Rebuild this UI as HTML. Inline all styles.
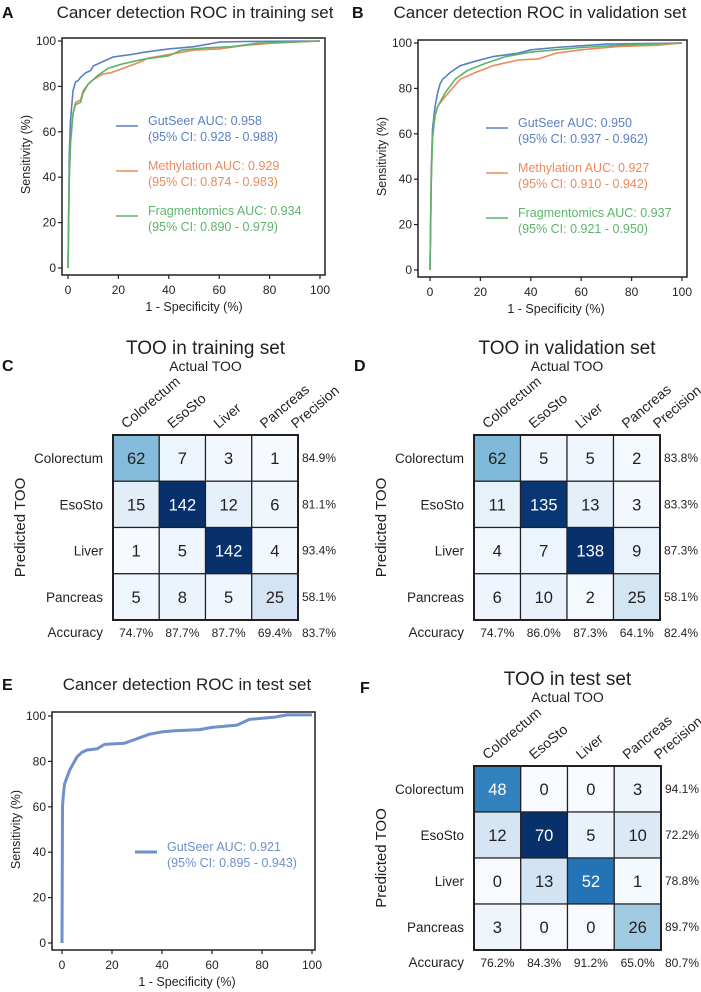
<!DOCTYPE html>
<html><head><meta charset="utf-8"><style>
body{margin:0;background:#fff}
svg{display:block;font-family:"Liberation Sans",Arial,sans-serif}
</style></head><body>
<svg id="fig" width="701" height="992" viewBox="0 0 701 992" xmlns="http://www.w3.org/2000/svg"></svg>
<script>
// ---- ROC data (fpr %, tpr %) ----
const trainGutFpr=[0,0.5,1,2,3,4,5,7,9,10,14,18,25,30,40,50,60,70,100];
const trainGutTpr=[0,50,65,78,82,82.5,84,86,87,89,91,93,94,95,96.5,97.5,99.5,99.8,100];
const trainMethFpr=[0,0.5,1,2,3,5,6,8,10,14,17,22,28,32,40,45,50,60,70,80,100];
const trainMethTpr=[0,40,55,68,73,74,78,81,83,85.5,86,88,90.5,92.5,94,95,96,96.5,98,99,100];
const trainFragFpr=[0,0.5,1,2,3,5,6,8,12,16,22,30,40,45,55,65,75,100];
const trainFragTpr=[0,40,55,68,72,73,77,81,85,88,90,92,93.5,96,97,97.5,99,100];
const valGutFpr=[0,0.5,1,2,3,4,5,8,12,18,25,35,40,50,70,100];
const valGutTpr=[0,45,62,72,78,82,84,87,90,92,94,95.5,97,98,99.5,100];
const valMethFpr=[0,0.5,1,2,3,5,8,12,18,25,35,43,50,60,75,90,100];
const valMethTpr=[0,40,58,68,72,75,79,84,87,90,92.5,93,95.5,97,98.5,99,100];
const valFragFpr=[0,0.5,1,2,3,6,10,15,22,30,40,50,60,75,100];
const valFragTpr=[0,40,58,68,72,78,84,88,91,94,96,97,98,99,100];
const testGutFpr=[0,0.2,0.5,1,2,3,4,5,6,8,10,14,17,25,30,35,40,45,55,60,70,75,85,90,100];
const testGutTpr=[0,60,65,70,73,76,78,80,82,84,85,85.5,87.5,88,90,92,93,93.5,94,95,96,98.5,99.5,100.5,100.5];
const rocTicks=[0,20,40,60,80,100];
// ---- confusion matrices ----
const tooCats=["Colorectum","EsoSto","Liver","Pancreas"];
const trainMatrix=[[62,7,3,1],[15,142,12,6],[1,5,142,4],[5,8,5,25]];
const trainPrecision=["84.9%","81.1%","93.4%","58.1%"];
const trainAccuracy=["74.7%","87.7%","87.7%","69.4%","83.7%"];
const valMatrix=[[62,5,5,2],[11,135,13,3],[4,7,138,9],[6,10,2,25]];
const valPrecision=["83.8%","83.3%","87.3%","58.1%"];
const valAccuracy=["74.7%","86.0%","87.3%","64.1%","82.4%"];
const testMatrix=[[48,0,0,3],[12,70,5,10],[0,13,52,1],[3,0,0,26]];
const testPrecision=["94.1%","72.2%","78.8%","89.7%"];
const testAccuracy=["76.2%","84.3%","91.2%","65.0%","80.7%"];

const NS="http://www.w3.org/2000/svg";
const svg=document.getElementById('fig');
function el(tag,attrs,parent,text){const e=document.createElementNS(NS,tag);for(const k in attrs)e.setAttribute(k,attrs[k]);if(text!==undefined)e.textContent=text;(parent||svg).appendChild(e);return e;}
function txt(x,y,s,size,opts,parent){opts=opts||{};const a={x:x,y:y,'font-size':size,fill:opts.fill||'#231f20','text-anchor':opts.anchor||'middle'};if(opts.weight)a['font-weight']=opts.weight;if(opts.transform)a.transform=opts.transform;return el('text',a,parent,s);}

function roc(cfg){
  const g=el('g',{});
  
  
  const X=v=>cfg.x0+(cfg.x1-cfg.x0)*v/100;
  const Y=v=>cfg.y0+(cfg.y1-cfg.y0)*v/100;
  const L=txt(cfg.letterX,cfg.titleY,cfg.letter,16,{weight:'bold',anchor:'start',fill:'#111'},g);
  
  const T=txt(cfg.titleX,cfg.titleY,cfg.title,17,{},g);
  
  const box=el('rect',{x:cfg.ax,y:cfg.top,width:cfg.right-cfg.ax,height:cfg.bot-cfg.top,fill:'none',stroke:'#231f20','stroke-width':1.5},g);
  
  rocTicks.forEach(t=>{
    el('line',{x1:cfg.ax-4,x2:cfg.ax,y1:Y(t),y2:Y(t),stroke:'#231f20','stroke-width':1.2},g);
    const yl=txt(cfg.ax-6,Y(t)+4,String(t),12,{anchor:'end'},g);
    
    el('line',{x1:X(t),x2:X(t),y1:cfg.bot,y2:cfg.bot+4,stroke:'#231f20','stroke-width':1.2},g);
    const xl=txt(X(t),cfg.bot+19,String(t),12,{},g);
    
  });
  const xt=txt((cfg.x0+cfg.x1)/2,cfg.bot+36,'1 - Specificity (%)',12.5,{},g);
  
  const yc=(cfg.y0+cfg.y1)/2;
  const yt=txt(cfg.ax-32,yc,'Sensitivity (%)',12.5,{transform:`rotate(-90 ${cfg.ax-32} ${yc})`},g);
  
  cfg.series.forEach(s=>{
    const pts=s.fpr.map((f,i)=>X(f).toFixed(1)+','+Y(s.tpr[i]).toFixed(1)).join(' ');
    const p=el('polyline',{points:pts,fill:'none',stroke:s.color,'stroke-width':s.w||1.6,'stroke-linejoin':'round'},g);
    
  });
  cfg.series.forEach((s,i)=>{
    const ly=cfg.legY+i*45;
    const lg=el('g',{},g);
    
    el('line',{x1:cfg.legX,x2:cfg.legX+22,y1:ly,y2:ly,stroke:s.color,'stroke-width':s.w||1.6},lg);
    txt(cfg.legX+32,ly-1,s.label,12.5,{anchor:'start',fill:s.color},lg);
    txt(cfg.legX+32,ly+15,s.ci,12.5,{anchor:'start',fill:s.color},lg);
  });
}
const BLUE='#5b7fc3',ORANGE='#eb8a5c',GREEN='#5cb46c';
roc({name:'roc-training',letter:'A',letterX:2,title:'Cancer detection ROC in training set',titleX:195,titleY:18,
 ax:62,right:325,top:38,bot:275,x0:68,x1:320,y0:268,y1:41,legX:116,legY:126,
 series:[{key:'gutseer',fpr:trainGutFpr,tpr:trainGutTpr,color:BLUE,label:'GutSeer AUC: 0.958',ci:'(95% CI: 0.928 - 0.988)'},
 {key:'methylation',fpr:trainMethFpr,tpr:trainMethTpr,color:ORANGE,label:'Methylation AUC: 0.929',ci:'(95% CI: 0.874 - 0.983)'},
 {key:'fragmentomics',fpr:trainFragFpr,tpr:trainFragTpr,color:GREEN,label:'Fragmentomics AUC: 0.934',ci:'(95% CI: 0.890 - 0.979)'}]});
roc({name:'roc-validation',letter:'B',letterX:352,title:'Cancer detection ROC in validation set',titleX:540,titleY:18,
 ax:418,right:687,top:40,bot:277,x0:430,x1:682,y0:270,y1:43,legX:486,legY:128,
 series:[{key:'gutseer',fpr:valGutFpr,tpr:valGutTpr,color:BLUE,label:'GutSeer AUC: 0.950',ci:'(95% CI: 0.937 - 0.962)'},
 {key:'methylation',fpr:valMethFpr,tpr:valMethTpr,color:ORANGE,label:'Methylation AUC: 0.927',ci:'(95% CI: 0.910 - 0.942)'},
 {key:'fragmentomics',fpr:valFragFpr,tpr:valFragTpr,color:GREEN,label:'Fragmentomics AUC: 0.937',ci:'(95% CI: 0.921 - 0.950)'}]});
roc({name:'roc-test',letter:'E',letterX:2,title:'Cancer detection ROC in test set',titleX:187,titleY:690,
 ax:52,right:315,top:712,bot:950,x0:62,x1:312,y0:943,y1:716,legX:135,legY:852,
 series:[{key:'gutseer',fpr:testGutFpr,tpr:testGutTpr,color:'#6f90cb',w:3,label:'GutSeer AUC: 0.921',ci:'(95% CI: 0.895 - 0.943)'}]});

// Blues colormap
const BL=[[247,251,255],[222,235,247],[198,219,239],[158,202,225],[107,174,214],[66,146,198],[33,113,181],[8,81,156],[8,48,107]];
function blues(t){t=Math.max(0,Math.min(1,t))*(BL.length-1);const i=Math.min(Math.floor(t),BL.length-2),f=t-i;const c=BL[i].map((v,k)=>Math.round(v+(BL[i+1][k]-v)*f));return `rgb(${c})`;}

function cm(cfg){
  const g=el('g',{});
  
  
  const L=txt(cfg.letterX,cfg.letterY,cfg.letter,16,{weight:'bold',anchor:'start',fill:'#111'},g);
  
  const cw=(cfg.right-cfg.left)/4,ch=(cfg.bot-cfg.top)/4;
  const cx=(cfg.left+cfg.right)/2;
  const T=txt(cx,cfg.top-81,cfg.title,19,{},g);
  
  const A=txt(cx,cfg.top-64,'Actual TOO',14,{},g);
  
  const yc=(cfg.top+cfg.bot)/2;
  const P=txt(cfg.left-88,yc,'Predicted TOO',15,{transform:`rotate(-90 ${cfg.left-88} ${yc})`},g);
  
  const max=Math.max(...cfg.m.flat());
  cfg.m.forEach((row,r)=>{
    const rl=txt(cfg.left-10,cfg.top+ch*r+ch/2+5,tooCats[r],13.5,{anchor:'end'},g);
    
    row.forEach((v,c)=>{
      const t=v/max;
      const cell=el('rect',{x:cfg.left+cw*c,y:cfg.top+ch*r,width:cw,height:ch,fill:blues(t),stroke:'#231f20','stroke-width':1.2},g);
      
      const vt=txt(cfg.left+cw*c+cw/2,cfg.top+ch*r+ch/2+6,String(v),16.5,{fill:t>0.55?'#fff':'#231f20'},g);
      
    });
    const pr=txt(cfg.right+21,cfg.top+ch*r+ch/2+4,cfg.prec[r],12,{},g);
    
  });
  el('rect',{x:cfg.left,y:cfg.top,width:cfg.right-cfg.left,height:cfg.bot-cfg.top,fill:'none',stroke:'#231f20','stroke-width':2},g);
  const heads=tooCats.concat(['Precision']);
  heads.forEach((h,c)=>{
    const hx=c<4?cfg.left+cw*c+cw/2-10:cfg.right-2,hy=cfg.top-6;
    const ht=txt(hx,hy,h,14,{anchor:'start',transform:`rotate(-40 ${hx} ${hy})`},g);
    
  });
  const ay=cfg.bot+17;
  const al=txt(cfg.left-10,ay,'Accuracy',13.5,{anchor:'end'},g);
  
  cfg.acc.forEach((a,c)=>{
    const x=c<4?cfg.left+cw*c+cw/2:cfg.right+21;
    const at=txt(x,ay,a,12,{},g);
    
  });
}
cm({name:'too-training-matrix',letter:'C',letterX:2,letterY:371,title:'TOO in training set',left:113,right:298,top:435,bot:620,m:trainMatrix,prec:trainPrecision,acc:trainAccuracy});
cm({name:'too-validation-matrix',letter:'D',letterX:354,letterY:371,title:'TOO in validation set',left:474,right:660,top:435,bot:620,m:valMatrix,prec:valPrecision,acc:valAccuracy});
cm({name:'too-test-matrix',letter:'F',letterX:360,letterY:693,title:'TOO in test set',left:474,right:661,top:766,bot:950,m:testMatrix,prec:testPrecision,acc:testAccuracy});
</script>
</body></html>
